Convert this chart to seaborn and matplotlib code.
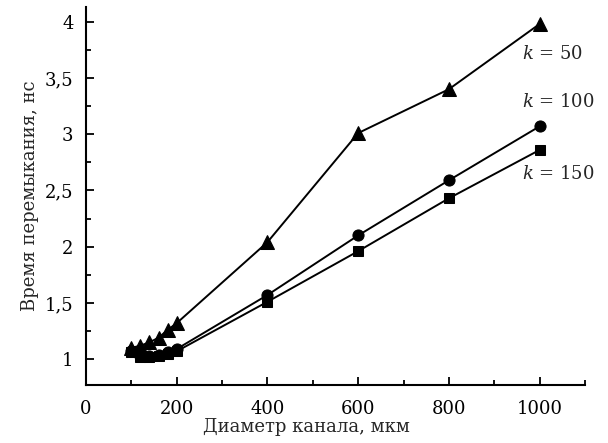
import matplotlib
matplotlib.use("Agg")
import matplotlib.pyplot as plt
import pandas as pd
import seaborn as sns
from matplotlib.ticker import MultipleLocator

# diameters (um) and breakdown times (ns)
diam = [100, 120, 140, 160, 180, 200, 400, 600, 800, 1000]
t_k50 = [1.10, 1.12, 1.15, 1.19, 1.26, 1.32, 2.04, 3.01, 3.40, 3.98]
t_k100 = [1.07, 1.03, 1.03, 1.04, 1.06, 1.09, 1.57, 2.10, 2.59, 3.07]
t_k150 = [1.06, 1.02, 1.02, 1.03, 1.05, 1.07, 1.51, 1.96, 2.43, 2.86]

series = {"50": (t_k50, "^", 10), "100": (t_k100, "o", 8), "150": (t_k150, "s", 7.5)}
label_pos = {"50": (961, 3.71), "100": (961, 3.29), "150": (961, 2.65)}

sns.set_style("ticks")
plt.rcParams['font.family'] = ['DejaVu Serif']
plt.rcParams['mathtext.fontset'] = 'dejavuserif'

fig = plt.figure(figsize=(6.08, 4.43), dpi=100)
ax = fig.add_axes([0.1414, 0.1309, 0.8207, 0.853])

for k, (vals, mk, ms) in series.items():
    df = pd.DataFrame({"d": diam, "t": vals})
    sns.lineplot(data=df, x="d", y="t", ax=ax, color="black", lw=1.4,
                 marker=mk, markersize=ms, markeredgecolor="black")
    ax.text(*label_pos[k], f"$k$ = {k}", fontsize=13, ha="left", va="center")

ax.set_xlim(0, 1100)
ax.set_ylim(0.77, 4.13)
ax.xaxis.set_major_locator(MultipleLocator(200))
ax.xaxis.set_minor_locator(MultipleLocator(100))
ax.yaxis.set_minor_locator(MultipleLocator(0.25))
ax.set_yticks([1, 1.5, 2, 2.5, 3, 3.5, 4])
ax.set_yticklabels(["1", "1,5", "2", "2,5", "3", "3,5", "4"])
ax.tick_params(which="both", direction="in", labelsize=13, width=1.3, colors="black")
ax.tick_params(which="major", length=6)
ax.tick_params(which="minor", length=3.5)
ax.tick_params(axis="x", which="major", pad=11)
ax.tick_params(axis="y", which="major", pad=9)
sns.despine(ax=ax)
for s in ["left", "bottom"]:
    ax.spines[s].set_linewidth(1.5)
    ax.spines[s].set_color("black")

ax.set_xlabel("Диаметр канала, мкм", fontsize=13)
ax.xaxis.set_label_coords(0.441, -0.088)
ax.set_ylabel("Время перемыкания, нс", fontsize=13, labelpad=4)

fig.savefig("out.png", dpi=100)
